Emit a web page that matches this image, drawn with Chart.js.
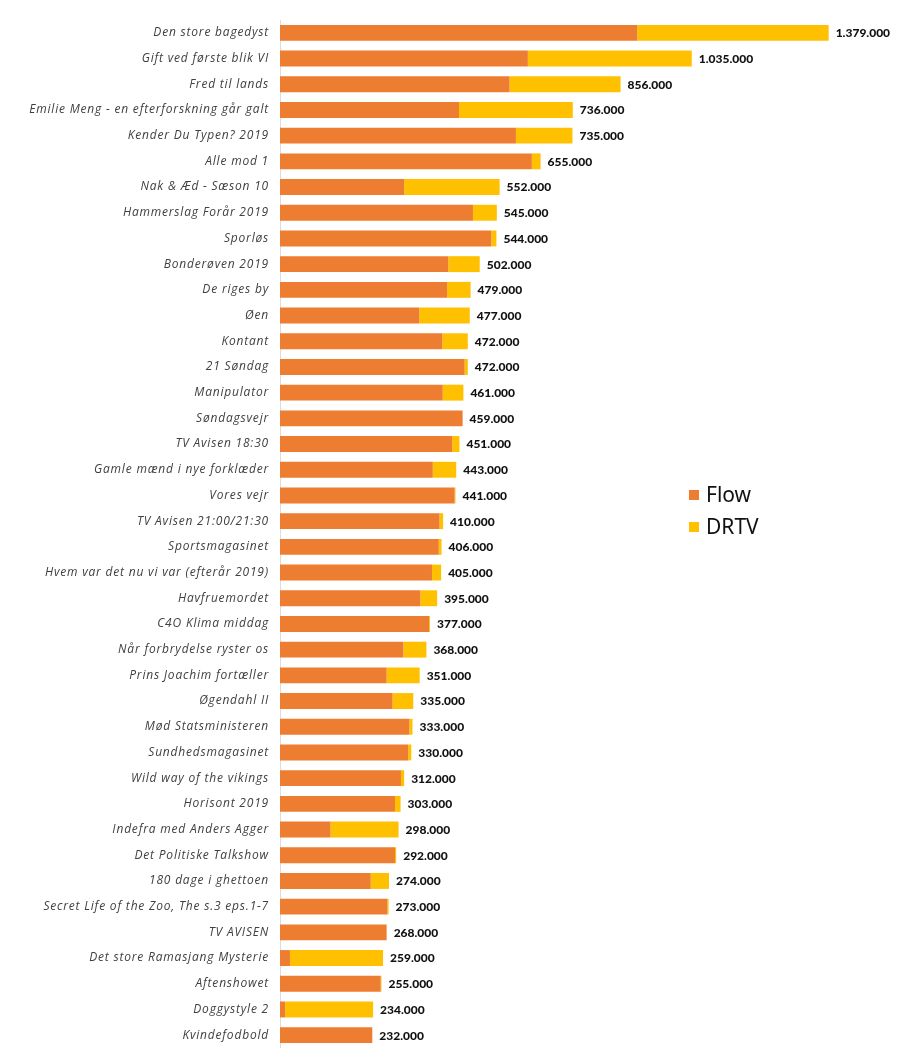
<!DOCTYPE html>
<html>
<head>
<meta charset="utf-8">
<script src="https://cdn.jsdelivr.net/npm/chart.js@4.4.1/dist/chart.umd.min.js"></script>
<style>
  html, body { margin: 0; padding: 0; background: #ffffff; }
  #wrap { position: relative; width: 900px; height: 1048px; }
</style>
</head>
<body>
<div id="wrap"><canvas id="c" width="900" height="1048"></canvas></div>
<script>
const categories = [
  "Den store bagedyst", "Gift ved første blik VI", "Fred til lands",
  "Emilie Meng - en efterforskning går galt", "Kender Du Typen? 2019", "Alle mod 1",
  "Nak & Æd - Sæson 10", "Hammerslag Forår 2019", "Sporløs", "Bonderøven 2019",
  "De riges by", "Øen", "Kontant", "21 Søndag", "Manipulator", "Søndagsvejr",
  "TV Avisen 18:30", "Gamle mænd i nye forklæder", "Vores vejr", "TV Avisen 21:00/21:30",
  "Sportsmagasinet", "Hvem var det nu vi var (efterår 2019)", "Havfruemordet",
  "C4O Klima middag", "Når forbrydelse ryster os", "Prins Joachim fortæller",
  "Øgendahl II", "Mød Statsministeren", "Sundhedsmagasinet", "Wild way of the vikings",
  "Horisont 2019", "Indefra med Anders Agger", "Det Politiske Talkshow",
  "180 dage i ghettoen", "Secret Life of the Zoo, The s.3 eps.1-7", "TV AVISEN",
  "Det store Ramasjang Mysterie", "Aftenshowet", "Doggystyle 2", "Kvindefodbold"
];
const flowValues = [
  898000, 623000, 577000, 450000, 593000, 633000, 312000, 485000, 531000, 423000,
  420000, 350000, 408000, 464000, 409000, 459000, 433000, 384000, 439000, 401000,
  399000, 382000, 353000, 375000, 310000, 268000, 283000, 325000, 322000, 304000,
  289000, 127000, 289000, 228000, 270000, 268000, 25000, 253000, 13000, 232000
];
const drtvValues = [
  481000, 412000, 279000, 286000, 142000, 22000, 240000, 60000, 13000, 79000,
  59000, 127000, 64000, 8000, 52000, 0, 18000, 59000, 2000, 9000,
  7000, 23000, 42000, 2000, 58000, 83000, 52000, 8000, 8000, 8000,
  14000, 171000, 3000, 46000, 3000, 0, 234000, 2000, 221000, 0
];
const seriesNames = ["Flow", "DRTV"];
const seriesColors = ["#ED7D31", "#FFC000"];

function fmt(n) {
  return String(Math.round(n)).replace(/\B(?=(\d{3})+(?!\d))/g, ".");
}

const totalLabels = {
  id: "totalLabels",
  afterDatasetsDraw(chart) {
    const ctx = chart.ctx;
    const xs = chart.scales.x, ys = chart.scales.y;
    ctx.save();
    ctx.letterSpacing = "0px";
    ctx.font = "900 12px Lato";
    ctx.fillStyle = "#111111";
    ctx.textAlign = "left";
    ctx.textBaseline = "middle";
    categories.forEach((c, i) => {
      const total = flowValues[i] + drtvValues[i];
      ctx.fillText(fmt(total), xs.getPixelForValue(total) + 7, ys.getPixelForValue(i) + 0.5);
    });
    ctx.restore();
  }
};

const sideLegend = {
  id: "sideLegend",
  afterDraw(chart) {
    const ctx = chart.ctx;
    ctx.save();
    ctx.letterSpacing = "0px";
    ctx.font = "400 21px 'Noto Sans'";
    ctx.textBaseline = "middle";
    ctx.textAlign = "left";
    chart.data.datasets.forEach((ds, i) => {
      const y = 495 + i * 32;
      ctx.fillStyle = ds.backgroundColor;
      ctx.fillRect(689, y - 5, 10, 10);
      ctx.fillStyle = "#111111";
      ctx.fillText(ds.label, 706, y + 1);
    });
    ctx.restore();
  }
};

const spacing = {
  id: "spacing",
  beforeDraw(chart) { chart.ctx.letterSpacing = "0.8px"; },
  afterDraw(chart) { chart.ctx.letterSpacing = "0px"; }
};

new Chart(document.getElementById("c"), {
  type: "bar",
  data: {
    labels: categories,
    datasets: [
      { label: seriesNames[0], data: flowValues, backgroundColor: seriesColors[0], borderWidth: 0 },
      { label: seriesNames[1], data: drtvValues, backgroundColor: seriesColors[1], borderWidth: 0 }
    ]
  },
  options: {
    indexAxis: "y",
    responsive: false,
    animation: false,
    devicePixelRatio: 1,
    layout: { padding: { top: 20, right: 63, bottom: 0, left: 0 } },
    datasets: { bar: { barPercentage: 0.62, categoryPercentage: 1.0 } },
    plugins: { legend: { display: false }, tooltip: { enabled: false } },
    scales: {
      x: { stacked: true, display: false, min: 0, max: 1400000 },
      y: {
        stacked: true,
        grid: { display: false, drawTicks: false },
        border: { display: true, color: "#dcdcdc", width: 1 },
        ticks: {
          padding: 11,
          color: "#404040",
          font: { family: "'Open Sans'", size: 12, style: "italic", weight: "400" },
          autoSkip: false
        },
        afterFit(scale) {
          scale.width = 280;
          scale.paddingTop = 0;
          scale.paddingBottom = 0;
        }
      }
    }
  },
  plugins: [spacing, totalLabels, sideLegend]
});
</script>
</body>
</html>
